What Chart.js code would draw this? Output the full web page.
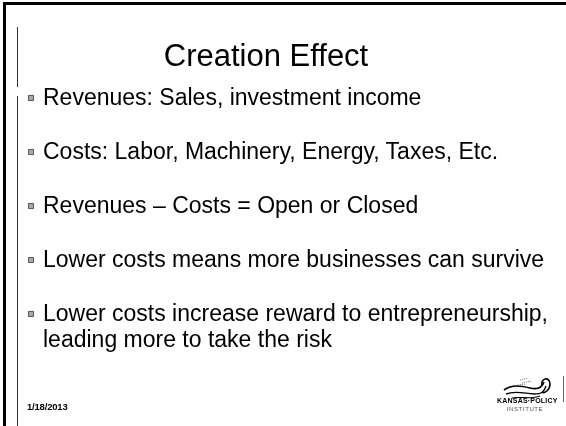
<!DOCTYPE html>
<html>
<head>
<meta charset="utf-8">
<script src="https://cdn.jsdelivr.net/npm/chart.js@4"></script>
<style>
  html, body { margin:0; padding:0; background:#fff; }
  #slide { position:relative; width:566px; height:426px; overflow:hidden; background:#fff; font-family:"Liberation Sans", Arial, sans-serif; color:#000; }
  #c { position:absolute; left:0; top:0; }
  .ln { position:absolute; background:#000; }
  #title { position:absolute; left:0; width:532px; top:36px; text-align:center; font-size:31px; line-height:40px; }
  .bullet { position:absolute; left:43px; width:515px; font-size:23px; line-height:26px; white-space:normal; }
  #date { position:absolute; left:27px; top:401px; font-size:9.5px; font-weight:bold; letter-spacing:-0.2px; }
  #logo { position:absolute; left:498px; top:360px; width:56px; height:56px; }
  #logoTxt1 { position:absolute; left:497px; top:397px; width:56px; text-align:center; font-size:7px; font-weight:bold; letter-spacing:0.2px; }
  #logoTxt2 { position:absolute; left:497px; top:406px; width:56px; text-align:center; font-size:6px; color:#555; letter-spacing:0.6px; }
</style>
</head>
<body>
<div id="slide">
  <canvas id="c" width="566" height="426"></canvas>
  <div class="ln" style="left:4px;top:2px;width:562px;height:3px;"></div>
  <div class="ln" style="left:3px;top:2px;width:3px;height:424px;"></div>
  <div class="ln" style="left:17px;top:27px;width:1px;height:60px;background:#333;"></div>
  <div class="ln" style="left:17px;top:96px;width:1px;height:330px;background:#333;"></div>
  <div class="ln" style="left:563px;top:376px;width:1px;height:26px;background:#666;"></div>
  <div id="title"></div>
  <div id="bullets"></div>
  <div id="date"></div>
  <svg id="logo" viewBox="0 0 56 40">
    <path d="M6 22 C 14 16, 24 18, 32 20 S 44 20, 46 14" fill="none" stroke="#000" stroke-width="1.6"/>
    <path d="M8 26 C 18 22, 28 26, 36 26 S 46 24, 48 18" fill="none" stroke="#000" stroke-width="1.4"/>
    <path d="M14 30 C 22 28, 32 32, 42 28" fill="none" stroke="#000" stroke-width="1.1"/>
    <path d="M44 18 C 42 10, 52 8, 52 16 C 52 22, 46 26, 44 24" fill="none" stroke="#000" stroke-width="1.6"/>
    <path d="M22 12 L 30 10 M24 15 L 34 13 M20 17 L 28 16" stroke="#555" stroke-width="0.8" stroke-dasharray="1 1"/>
  </svg>
  <div id="logoTxt1">KANSAS·POLICY</div>
  <div id="logoTxt2">INSTITUTE</div>
</div>
<script>
const slideTitle = "Creation Effect";
const bulletTexts = [
  "Revenues: Sales, investment income",
  "Costs: Labor, Machinery, Energy, Taxes, Etc.",
  "Revenues \u2013 Costs = Open or Closed",
  "Lower costs means more businesses can survive",
  "Lower costs increase reward to entrepreneurship, leading more to take the risk"
];
const bulletRows = [0, 1, 2, 3, 4];
const footerDate = "1/18/2013";

document.getElementById('title').textContent = slideTitle;
document.getElementById('date').textContent = footerDate;
const holder = document.getElementById('bullets');
const bulletEls = bulletTexts.map(t => {
  const d = document.createElement('div');
  d.className = 'bullet';
  d.textContent = t;
  holder.appendChild(d);
  return d;
});

const placeText = {
  id: 'placeText',
  afterRender(chart) {
    const ys = chart.scales.y;
    bulletRows.forEach((r, i) => {
      const py = ys.getPixelForValue(r);
      bulletEls[i].style.top = (py - 14) + 'px';
    });
  }
};

new Chart(document.getElementById('c'), {
  type: 'scatter',
  data: {
    datasets: [{
      data: bulletRows.map(r => ({ x: 0, y: r })),
      pointStyle: 'rect',
      pointRadius: 3.6,
      backgroundColor: '#a8a8a8',
      borderColor: '#555',
      borderWidth: 1,
      clip: false
    }]
  },
  options: {
    responsive: false,
    animation: false,
    events: [],
    layout: { padding: { left: 31, right: 20, top: 71, bottom: 85 } },
    plugins: { legend: { display: false }, tooltip: { enabled: false }, title: { display: false } },
    scales: {
      x: { type: 'linear', min: 0, max: 1, display: false },
      y: { type: 'linear', min: -0.5, max: 4.5, reverse: true, display: false }
    }
  },
  plugins: [placeText]
});
</script>
</body>
</html>
